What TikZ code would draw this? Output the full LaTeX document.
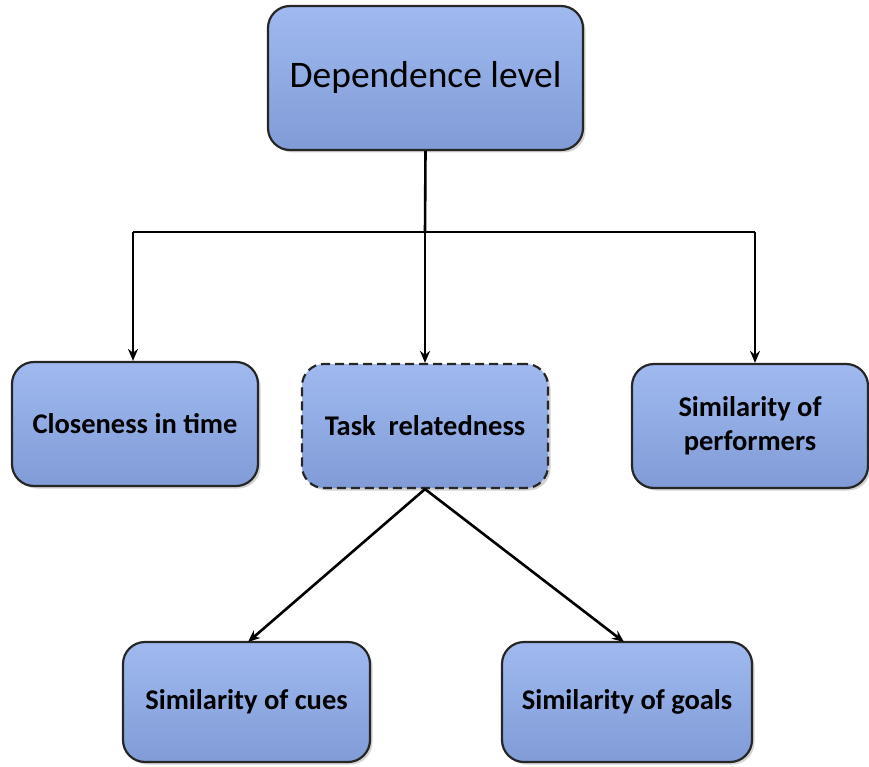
\documentclass[tikz,border=0pt]{standalone}
\usepackage{fontspec}
\setmainfont{Carlito}
\usetikzlibrary{arrows.meta,shadows}
\begin{document}
\begin{tikzpicture}[x=1pt,y=-1pt,
  box/.style={draw=black!85,line width=2.2pt,rounded corners=22pt,
    top color={rgb,255:red,160;green,186;blue,240},
    bottom color={rgb,255:red,128;green,155;blue,214},
    drop shadow={shadow xshift=2.5pt,shadow yshift=-2.5pt,opacity=0.35},
    minimum width=246pt,minimum height=124pt,align=center,
    font=\fontsize{28.5}{34}\selectfont\bfseries},
  conn/.style={line width=2.6pt,-{Stealth[length=12pt,width=10pt]}},
  line/.style={line width=2.6pt}]
\useasboundingbox (0,0) rectangle (869,767);
\node[box,minimum width=315pt,minimum height=144pt,font=\fontsize{37.5}{44}\selectfont] (top) at (425.5,78) {Dependence level};
\node[box] (close) at (135,424) {Closeness in time};
\node[box,dash pattern=on 9pt off 5pt] (task) at (425,426) {Task\ \ relatedness};
\node[box,minimum width=236pt] (perf) at (750,426) {Similarity of\\performers};
\node[box,minimum width=247pt,minimum height=120pt] (cues) at (246.5,702) {Similarity of cues};
\node[box,minimum width=250pt,minimum height=120pt] (goals) at (627,702) {Similarity of goals};
\coordinate (j) at (425,232);
\coordinate (jl) at (133,232);
\coordinate (jr) at (755,232);
\draw[line] (top.south) -- (j);
\draw[line] (jl) -- (jr);
\draw[conn] (jl) -- (jl |- close.north);
\draw[conn] (j) -- (task.north);
\draw[conn] (jr) -- (jr |- perf.north);
\coordinate (cuesin) at (248,642);
\coordinate (goalsin) at (624,642);
\draw[conn] (task.south) -- (cuesin);
\draw[conn] (task.south) -- (goalsin);
\end{tikzpicture}
\end{document}
